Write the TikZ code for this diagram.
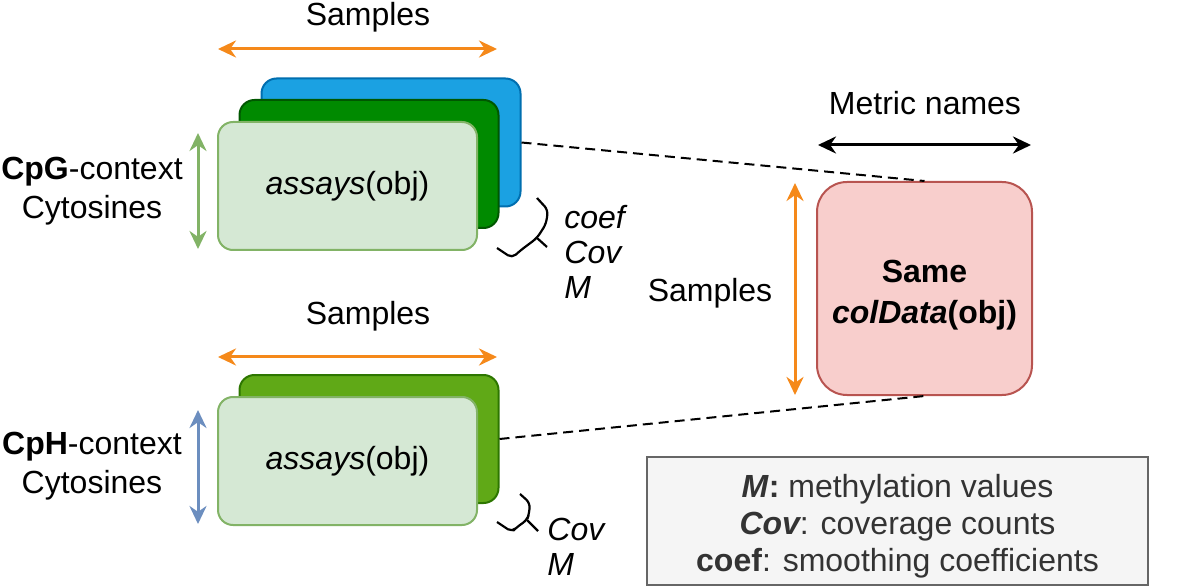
\documentclass[tikz,border=0pt]{standalone}
\usepackage{fontspec}
\setmainfont{Liberation Sans}
\usepackage{tikz}
\usetikzlibrary{arrows.meta,positioning}

\definecolor{plateblue}{HTML}{1BA1E2}
\definecolor{plateblueline}{HTML}{006EAF}
\definecolor{platedark}{HTML}{008A00}
\definecolor{platedarkline}{HTML}{005700}
\definecolor{platelime}{HTML}{60A917}
\definecolor{platelimeline}{HTML}{2D7600}
\definecolor{platelight}{HTML}{D5E8D4}
\definecolor{platelightline}{HTML}{82B366}
\definecolor{spanorange}{HTML}{F5891A}
\definecolor{spanblue}{HTML}{6C8EBF}
\definecolor{coldatafill}{HTML}{F8CECC}
\definecolor{coldataline}{HTML}{B85450}
\definecolor{legendfill}{HTML}{F5F5F5}
\definecolor{legendline}{HTML}{666666}
\definecolor{legendtext}{HTML}{333333}

\begin{document}
\begin{tikzpicture}[
    x=0.5pt, y=-0.5pt,
    font=\fontsize{16}{19.5}\selectfont,
    plate/.style={rectangle, line width=1pt, minimum width=129.5pt, minimum height=64pt, rounded corners=7.5pt, inner sep=0pt},
    span/.style={{Stealth[length=9pt,width=8.5pt]}-{Stealth[length=9pt,width=8.5pt]}, line width=1.5pt},
    metricbrace/.style={line width=1.1pt, rounded corners=2.5pt, line join=round},
    link/.style={dashed, dash pattern=on 5pt off 3pt, line width=1pt},
    label/.style={align=center, inner sep=0pt},
    metrics/.style={anchor=west, align=left, inner sep=0pt, font=\fontsize{16}{17.5}\selectfont\itshape}
]
    \useasboundingbox (0,0) rectangle (1182,587);

    % CpG block
    \node[plate, fill=plateblue, draw=plateblueline] (cpgblue) at (391,142.5) {};
    \node[plate, fill=platedark, draw=platedarkline] (cpgdark) at (369,164) {};
    \node[plate, fill=platelight, draw=platelightline] (cpgfront) at (347.5,186) {\textit{assays}(obj)};

    \node[label] (cpgsamples) at (368,17) {Samples};
    \coordinate (cpgspanL) at (218,49);
    \coordinate (cpgspanR) at (497,49);
    \draw[span, spanorange] (cpgspanL) -- (cpgspanR);

    \node[label] (cpglabel) at (92,191) {\textbf{CpG}-context\\Cytosines};
    \coordinate (cpgrowT) at (198,133);
    \coordinate (cpgrowB) at (198,249);
    \draw[span, platelightline] (cpgrowT) -- (cpgrowB);

    \coordinate (cpgcusp) at (537,238);
    \draw[metricbrace] (537,198) -- (548,210) -- (546,224) -- (cpgcusp) -- (521,250) -- (512,258) -- (497,248);
    \draw[metricbrace] (cpgcusp) -- (547,247);
    \node[metrics] (cpgmetrics) at (564,252) {coef\\Cov\\M};

    % CpH block
    \node[plate, fill=platelime, draw=platelimeline] (cphdark) at (369,439) {};
    \node[plate, fill=platelight, draw=platelightline] (cphfront) at (347.5,461) {\textit{assays}(obj)};

    \node[label] (cphsamples) at (368,316) {Samples};
    \coordinate (cphspanL) at (218,357);
    \coordinate (cphspanR) at (497,357);
    \draw[span, spanorange] (cphspanL) -- (cphspanR);

    \node[label] (cphlabel) at (92,466) {\textbf{CpH}-context\\Cytosines};
    \coordinate (cphrowT) at (198,410);
    \coordinate (cphrowB) at (198,524);
    \draw[span, spanblue] (cphrowT) -- (cphrowB);

    \coordinate (cphcusp) at (527,520);
    \draw[metricbrace] (520,494) -- (530,503) -- (529,514) -- (cphcusp) -- (517,527) -- (512,532) -- (497,522);
    \draw[metricbrace] (cphcusp) -- (538,531);
    \node[metrics] (cphmetrics) at (547,547) {Cov\\M};

    % shared colData
    \node[rectangle, line width=1pt, fill=coldatafill, draw=coldataline, rounded corners=15pt,
          minimum width=107.5pt, minimum height=106.5pt] (coldata) at (924.5,288.5) {};
    \node[label, font=\fontsize{16}{20.5}\selectfont\bfseries] (coldatatext) at (924.5,295) {Same\\{\itshape colData}(obj)};

    \node[label] (metricnames) at (925,103) {Metric names};
    \coordinate (metricL) at (818,145);
    \coordinate (metricR) at (1031,145);
    \draw[span, black] (metricL) -- (metricR);

    \node[label] (coldatasamples) at (710,293) {Samples};
    \coordinate (coldataT) at (795,183);
    \coordinate (coldataB) at (795,395);
    \draw[span, spanorange] (coldataT) -- (coldataB);

    \draw[link] (cpgblue.east) -- (coldata.north);
    \draw[link] (cphdark.east) -- (coldata.south);

    % legend
    \node[rectangle, line width=1pt, fill=legendfill, draw=legendline, minimum width=250.5pt, minimum height=64pt]
          (legend) at (897.5,521) {};
    \node[label, text=legendtext, font=\fontsize{16}{18.5}\selectfont] (legendtext) at (897.5,526)
          {{\bfseries\itshape M}\textbf{:} methylation values\\{\bfseries\itshape Cov}: coverage counts\\\textbf{coef}: smoothing coefficients};
\end{tikzpicture}
\end{document}
